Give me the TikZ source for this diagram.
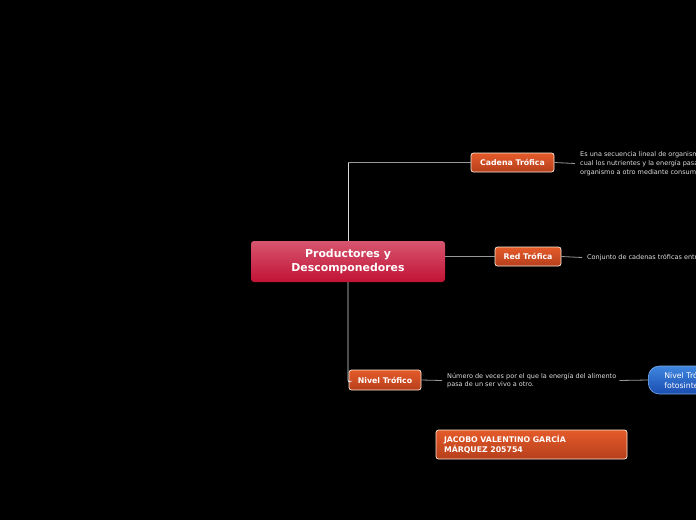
\documentclass[tikz,border=0pt]{standalone}
\usepackage{fontspec}
\setmainfont{DejaVu Sans}
\begin{document}
\begin{tikzpicture}[x=1pt,y=-1pt,
  orangebox/.style={draw=white!85!orange,line width=0.7pt,rounded corners=2.5pt,
    top color=orangetop,bottom color=orangebot,text=white,
    font=\fontsize{7.8}{9.5}\selectfont\bfseries,inner sep=0pt,align=center},
  desctext/.style={text=white!88!black,font=\fontsize{6.5}{8.8}\selectfont,
    inner xsep=5pt,inner ysep=0pt,align=left,anchor=west},
  greyline/.style={draw=gray!80,line width=0.8pt},
  lightline/.style={draw=white!85!black,line width=0.9pt}]
\definecolor{orangetop}{HTML}{E55B2A}
\definecolor{orangebot}{HTML}{B63F1C}
\definecolor{redtop}{HTML}{D6566F}
\definecolor{redbot}{HTML}{C21235}
\definecolor{bluetop}{HTML}{3F86E0}
\definecolor{bluebot}{HTML}{1A4DB0}
\useasboundingbox (0,0) rectangle (696,520);
\clip (0,0) rectangle (696,520);
\fill[black] (0,0) rectangle (696,520);

% central
\node[rounded corners=3pt,top color=redtop,bottom color=redbot,text=white,
  minimum width=194pt,minimum height=41pt,inner sep=0pt,align=center,
  font=\fontsize{10.9}{14}\selectfont\bfseries] (central) at (348,261.5)
  {Productores y\\Descomponedores};

% main topics
\node[orangebox,minimum width=83pt,minimum height=19pt] (cadena) at (512.5,162.5) {Cadena Trófica};
\node[orangebox,minimum width=66pt,minimum height=19pt] (red) at (528,256.5) {Red Trófica};
\node[orangebox,minimum width=72pt,minimum height=20pt] (nivel) at (385,380) {Nivel Trófico};

% descriptions
\node[desctext] (d1) at (575,163.5) {Es una secuencia lineal de organismos en la\\cual los nutrientes y la energía pasan de un\\organismo a otro mediante consumo.};
\node[desctext] (d2) at (582,257.5) {Conjunto de cadenas tróficas entrelazadas.};
\node[desctext] (d3) at (442,380.5) {Número de veces por el que la energía del alimento\\pasa de un ser vivo a otro.};

% blue subtopic
\node[draw=bluetop!70!white,line width=0.6pt,rounded corners=11pt,top color=bluetop,bottom color=bluebot,
  text=white,minimum width=130pt,minimum height=28pt,inner xsep=16pt,inner ysep=0pt,
  text width=98pt,align=left,anchor=west,font=\fontsize{7.8}{10}\selectfont] (blue) at (648,380)
  {Nivel Trófico 1:\\fotosintetizadores};

% author
\node[orangebox,minimum height=29pt,text width=175pt,inner xsep=8pt,align=left] (author) at (531.5,444.5)
  {JACOBO VALENTINO GARCÍA\\MÁRQUEZ 205754};

% connectors
\coordinate (c1) at (central.north |- cadena.west);
\draw[lightline] (central.north) -- (c1);
\draw[greyline] (c1) -- (cadena.west);
\draw[greyline] (central.east |- red.west) -- (red.west);
\draw[lightline,rounded corners=3pt] (central.south) -- ([yshift=-3pt]central.south |- nivel.west) -- ([xshift=1pt,yshift=-2pt]nivel.west);
\draw[greyline] (cadena.east) -- (d1.west);
\draw[greyline] (red.east) -- (d2.west);
\draw[greyline] (nivel.east) -- (d3.west);
\draw[greyline] ([xshift=-2pt]d3.east) -- (blue.west);
\end{tikzpicture}
\end{document}
